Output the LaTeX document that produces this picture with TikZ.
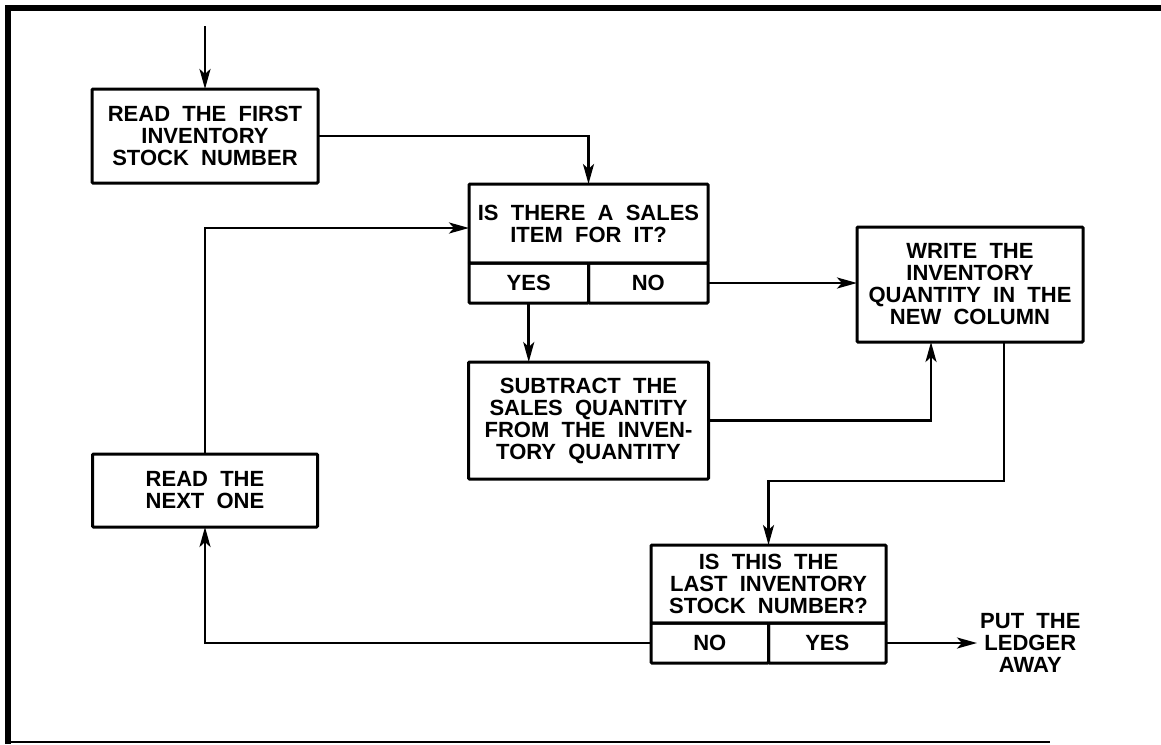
\documentclass[tikz,border=0pt]{standalone}
\usepackage{fontspec}
\setmainfont{Liberation Sans}[WordSpace=2]
\usepackage{tikz}
\usetikzlibrary{positioning,arrows.meta,calc}

\begin{document}
\begin{tikzpicture}[
  x=1pt, y=1pt,
  font=\fontsize{22}{22}\selectfont\bfseries,
  >={Stealth[length=20pt,width=11pt,inset=5pt]},
  box/.style={rectangle, rounded corners=1pt, draw, line width=3pt,
              align=center, inner sep=0pt, outer sep=0pt},
  cell/.style={box, minimum height=40pt},
  flow/.style={->, line width=2.6pt},
  frame/.style={line width=6pt},
]
\useasboundingbox (0,0) rectangle (1161,-744);

% ---------- Frame ----------
\draw[frame] (5,-8) -- (1161,-8);
\draw[frame] (8,-5) -- (8,-744);
\draw[line width=1.5pt] (8,-742) -- (1050,-742);

% ---------- Boxes ----------
\node[box, minimum width=226pt, minimum height=94pt] (rfirst) at (205,-136)
  {READ THE FIRST\\ INVENTORY\\ STOCK NUMBER};
\coordinate[above=63pt of rfirst] (entry);

\node[box, minimum width=239pt, minimum height=79pt] (sq) at (588.5,-223.5)
  {IS THERE A SALES\\ ITEM FOR IT?};
\node[cell, minimum width=119.5pt, below right=0pt and 0pt of sq.south west] (sqyes) {YES};
\node[cell, minimum width=119.5pt, below left=0pt and 0pt of sq.south east] (sqno) {NO};

\node[box, minimum width=226pt, minimum height=115pt] (write) at (970,-284.5)
  {WRITE THE\\ INVENTORY\\ QUANTITY IN THE\\ NEW COLUMN};

\node[box, minimum width=240pt, minimum height=117pt, below=99pt of sq] (sub)
  {SUBTRACT THE\\ SALES QUANTITY\\ FROM THE INVEN-\\ TORY QUANTITY};

\node[box, minimum width=225pt, minimum height=73pt, below=271pt of rfirst] (rnext)
  {READ THE\\ NEXT ONE};

\node[box, minimum width=235pt, minimum height=78pt] (lq) at (768.5,-584)
  {IS THIS THE\\ LAST INVENTORY\\ STOCK NUMBER?};
\node[cell, minimum width=117.5pt, below right=0pt and 0pt of lq.south west] (lqno) {NO};
\node[cell, minimum width=117.5pt, below left=0pt and 0pt of lq.south east] (lqyes) {YES};

\node[right=91pt of lqyes, inner sep=3pt, align=center] (ledger)
  {PUT THE\\ LEDGER\\ AWAY};

% ---------- Arrows ----------
\coordinate (sqin) at ([yshift=-4.5pt]sq.west);
\coordinate (writein) at ([xshift=-39pt]write.south);
\coordinate (writeout) at ([xshift=34pt]write.south);

\draw[flow] (entry) -- (rfirst);
\draw[flow] (rfirst.east) -| (sq.north);
\draw[flow] (sqno.east) -- (sqno.east -| write.west);
\draw[flow] (sqyes.south) -- (sqyes.south |- sub.north);
\draw[flow] (sub.east) -| (writein);
\draw[flow] (writeout) |- ($(lq.north)+(0,64)$) -- (lq.north);
\draw[flow] (lqno.west) -| (rnext.south);
\draw[flow] (rnext.north) |- (sqin);
\draw[flow] (lqyes.east) -- (ledger.west);

\end{tikzpicture}
\end{document}
